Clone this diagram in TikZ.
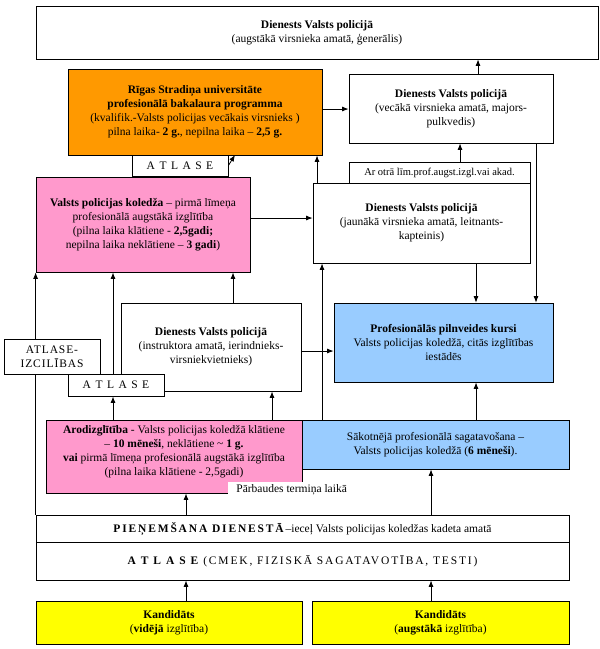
\documentclass[tikz,border=0pt]{standalone}
\usepackage{fontspec}
\setmainfont{Liberation Serif}
\usetikzlibrary{arrows.meta}
\newcommand{\sparse}[2]{{\addfontfeatures{LetterSpace=#1}#2}}
\definecolor{rsuorange}{HTML}{FF9900}
\definecolor{vppink}{HTML}{FF99CC}
\definecolor{vpblue}{HTML}{99CCFF}
\definecolor{kandyellow}{HTML}{FFFF00}
\begin{document}
\begin{tikzpicture}[x=1pt,y=-1pt,line width=0.8pt,
    >={Latex[length=6.5pt,width=5pt]},
    box/.style={draw,fill=white,align=center,inner sep=1pt,
      font=\fontsize{11.5}{14}\selectfont},
    small/.style={font=\fontsize{10.5}{13}\selectfont}]
          \useasboundingbox (0,0) rectangle (600,649);
          \node[box,minimum width=562pt,minimum height=53pt] (gen) at (317,32.5)
            {\textbf{Dienests Valsts policijā}\\(augstākā virsnieka amatā, ģenerālis)};
          \node[box,fill=rsuorange,minimum width=254pt,minimum height=86pt] (rsu) at (195,112)
            {\textbf{Rīgas Stradiņa universitāte}\\\textbf{profesionālā bakalaura programma}\\(kvalifik.-Valsts policijas vecākais virsnieks )\\pilna laika- \textbf{2 g.}, nepilna laika – \textbf{2,5 g.}};
          \node[box,minimum width=204pt,minimum height=69pt] (vec) at (451,108.5)
            {\textbf{Dienests Valsts policijā}\\(vecākā virsnieka amatā, majors-\\pulkvedis)};
          \node[box,minimum width=96pt,minimum height=21pt] (atl1) at (180,165.5)
            {\sparse{14}{A T L A S E}};
          \node[box,small,minimum width=181pt,minimum height=21pt] (arot) at (439.5,172.5)
            {Ar otrā līm.prof.augst.izgl.vai akad.};
          \node[box,fill=vppink,minimum width=214pt,minimum height=95pt] (kol) at (143,224.5)
            {\textbf{Valsts policijas koledža} – pirmā līmeņa\\profesionālā augstākā izglītība\\(pilna laika klātiene - \textbf{2,5gadi;}\\nepilna laika neklātiene – \textbf{3 gadi})};
          \node[box,minimum width=217pt,minimum height=80pt] (jaun) at (421.5,223)
            {\textbf{Dienests Valsts policijā}\\(jaunākā virsnieka amatā, leitnants-\\kapteinis)};
          \node[box,minimum width=180pt,minimum height=88pt] (instr) at (211,347)
            {\textbf{Dienests Valsts policijā}\\(instruktora amatā, ierindnieks-\\virsniekvietnieks)};
          \node[box,fill=vpblue,minimum width=219pt,minimum height=79pt] (kursi) at (443.5,342.5)
            {\textbf{Profesionālās pilnveides kursi}\\Valsts policijas koledžā, citās izglītības\\iestādēs};
          \node[box,minimum width=96pt,minimum height=22pt] (atl2) at (116,385)
            {\sparse{14}{A T L A S E}};
          \node[box,fill=vppink,minimum width=256pt,minimum height=73pt] (aro) at (174,456.5)
            {\textbf{Arodizglītība} - Valsts policijas koledžā klātiene\\– \textbf{10 mēneši}, neklātiene \textasciitilde{} \textbf{1 g.}\\\textbf{vai} pirmā līmeņa profesionālā augstākā izglītība\\(pilna laika klātiene - 2,5gadi)\\[-2pt]};
          \node[box,fill=vpblue,minimum width=267pt,minimum height=49pt] (sak) at (435.5,444.5)
            {Sākotnējā profesionālā sagatavošana –\\Valsts policijas koledžā (\textbf{6 mēneši}).};
          \node[box,minimum width=533pt,minimum height=27pt] (piem1) at (302.5,528.5)
            {\textbf{\sparse{16}{PIEŅEMŠANA DIENESTĀ}}–ieceļ Valsts policijas koledžas kadeta amatā};
          \node[box,minimum width=533pt,minimum height=38pt] (piem2) at (302.5,561)
            {\textbf{\sparse{18}{A T L A S E}} \sparse{16}{(CMEK, FIZISKĀ SAGATAVOTĪBA, TESTI)}};
          \node[box,fill=kandyellow,minimum width=266pt,minimum height=43pt] (yel1) at (169,622.5)
            {\textbf{Kandidāts}\\(\textbf{vidējā} izglītība)};
          \node[box,fill=kandyellow,minimum width=257pt,minimum height=43pt] (yel2) at (440.5,622.5)
            {\textbf{Kandidāts}\\(\textbf{augstākā} izglītība)};
          \coordinate (a1) at (235,155);

          \draw [->] (vec.north -| 478,0) -- (gen.south -| 478,0);
          \draw [->] (rsu.east |- 0,109) -- (vec.west |- 0,109);
          \draw [->] (atl1.east) -- (a1);
          \draw [->] (jaun.north -| 317,0) -- (rsu.south -| 317,0);
          \draw [->] (arot.north -| 460,0) -- (vec.south -| 460,0);
          \draw [->] (vec.south -| 536,0) -- (kursi.north -| 536,0);
          \draw [->] (jaun.south -| 476,0) -- (kursi.north -| 476,0);
          \draw [->] (kol.east |- 0,218) -- (jaun.west |- 0,218);
          \draw [->] (piem1.north west) -- (kol.south west);
          \draw [->] (atl2.north -| 113,0) -- (kol.south -| 113,0);
          \draw [->] (instr.north -| 233,0) -- (kol.south -| 233,0);
          \draw [->] (instr.east |- 0,351) -- (kursi.west |- 0,351);
          \draw [->] (sak.north -| 322,0) -- (jaun.south -| 322,0);
          \draw [->] (sak.north -| 476,0) -- (kursi.south -| 476,0);
          \draw [->] (aro.north -| 113,0) -- (atl2.south -| 113,0);
          \draw [->] (aro.north -| 272,0) -- (instr.south -| 272,0);
          \draw [->] (piem1.north -| 186,0) -- (aro.south -| 186,0);
          \draw [->] (piem1.north -| 431,0) -- (sak.south -| 431,0);
          \draw [->] (yel1.north -| 186,0) -- (piem2.south -| 186,0);
          \draw [->] (yel2.north -| 431,0) -- (piem2.south -| 431,0);

          \node[box,minimum width=96pt,minimum height=35pt] (izc) at (52,356.5)
            {\sparse{8}{ATLASE-}\\\sparse{8}{IZCILĪBAS}};
          \node[fill=white,anchor=north west,inner xsep=8pt,inner ysep=2pt,
            font=\fontsize{11.5}{14}\selectfont] (prb) at (228,482) {Pārbaudes termiņa laikā};
\end{tikzpicture}
\end{document}
